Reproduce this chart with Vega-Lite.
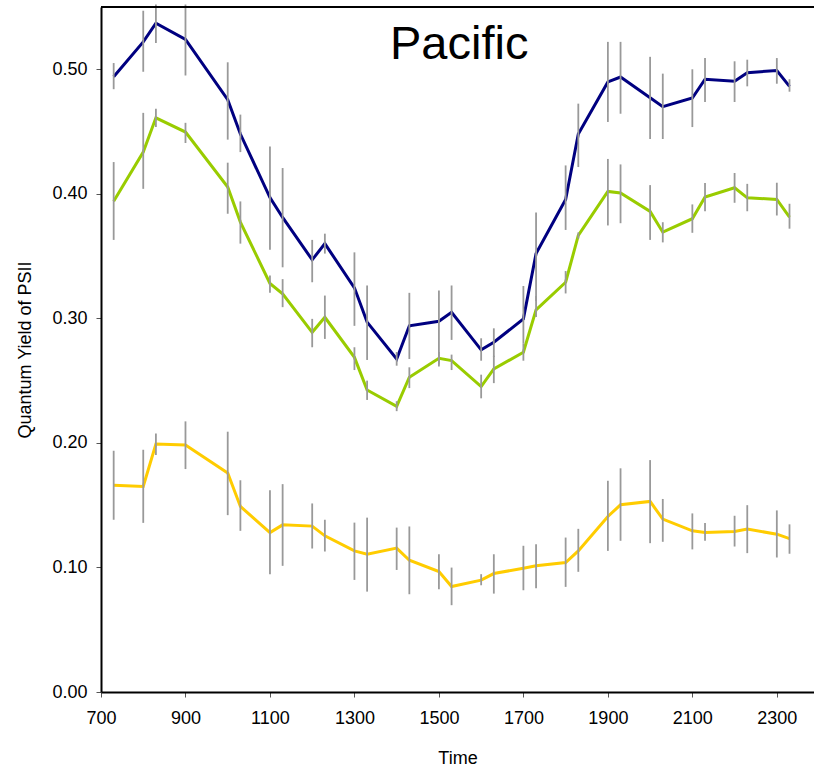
{
  "$schema": "https://vega.github.io/schema/vega-lite/v6.json",
  "width": 713,
  "height": 685,
  "autosize": {"type": "none"},
  "padding": {"left": 101, "top": 7, "right": 0, "bottom": 78},
  "background": "white",
  "config": {
    "view": {"stroke": null},
    "font": "Liberation Sans",
    "axis": {"grid": false, "domainColor": "black", "domainWidth": 2, "tickColor": "#555555", "tickSize": 5, "labelColor": "black", "titleColor": "black", "labelFont": "Liberation Sans", "titleFont": "Liberation Sans", "titleFontWeight": "normal", "labelFlush": false}
  },
  "data": {
    "values": [
      {"series": "A", "time": 730, "y": 0.494, "lo": 0.505, "hi": 0.484},
      {"series": "A", "time": 800, "y": 0.522, "lo": 0.547, "hi": 0.498},
      {"series": "A", "time": 830, "y": 0.537, "lo": 0.552, "hi": 0.521},
      {"series": "A", "time": 900, "y": 0.524, "lo": 0.552, "hi": 0.495},
      {"series": "A", "time": 1000, "y": 0.4756, "lo": 0.5056, "hi": 0.4435},
      {"series": "A", "time": 1030, "y": 0.448, "lo": 0.4636, "hi": 0.4335},
      {"series": "A", "time": 1100, "y": 0.397, "lo": 0.438, "hi": 0.355},
      {"series": "A", "time": 1130, "y": 0.381, "lo": 0.4207, "hi": 0.341},
      {"series": "A", "time": 1200, "y": 0.347, "lo": 0.363, "hi": 0.329},
      {"series": "A", "time": 1230, "y": 0.36, "lo": 0.368, "hi": 0.352},
      {"series": "A", "time": 1300, "y": 0.3245, "lo": 0.353, "hi": 0.294},
      {"series": "A", "time": 1330, "y": 0.297, "lo": 0.3264, "hi": 0.2666},
      {"series": "A", "time": 1400, "y": 0.2674, "lo": 0.273, "hi": 0.262},
      {"series": "A", "time": 1430, "y": 0.294, "lo": 0.3205, "hi": 0.2674},
      {"series": "A", "time": 1500, "y": 0.2977, "lo": 0.3224, "hi": 0.2613},
      {"series": "A", "time": 1530, "y": 0.3049, "lo": 0.3264, "hi": 0.2827},
      {"series": "A", "time": 1600, "y": 0.2747, "lo": 0.284, "hi": 0.266},
      {"series": "A", "time": 1630, "y": 0.2808, "lo": 0.292, "hi": 0.269},
      {"series": "A", "time": 1700, "y": 0.2996, "lo": 0.326, "hi": 0.28},
      {"series": "A", "time": 1730, "y": 0.352, "lo": 0.385, "hi": 0.314},
      {"series": "A", "time": 1800, "y": 0.3955, "lo": 0.4228, "hi": 0.371},
      {"series": "A", "time": 1830, "y": 0.448, "lo": 0.4724, "hi": 0.4215},
      {"series": "A", "time": 1900, "y": 0.4898, "lo": 0.522, "hi": 0.4577},
      {"series": "A", "time": 1930, "y": 0.4938, "lo": 0.522, "hi": 0.4643},
      {"series": "A", "time": 2000, "y": 0.4772, "lo": 0.51, "hi": 0.444},
      {"series": "A", "time": 2030, "y": 0.47, "lo": 0.4965, "hi": 0.444},
      {"series": "A", "time": 2100, "y": 0.4769, "lo": 0.5, "hi": 0.4536},
      {"series": "A", "time": 2130, "y": 0.492, "lo": 0.509, "hi": 0.4737},
      {"series": "A", "time": 2200, "y": 0.4904, "lo": 0.5064, "hi": 0.4737},
      {"series": "A", "time": 2230, "y": 0.4973, "lo": 0.5077, "hi": 0.4863},
      {"series": "A", "time": 2300, "y": 0.499, "lo": 0.509, "hi": 0.4884},
      {"series": "A", "time": 2330, "y": 0.4863, "lo": 0.492, "hi": 0.482},

      {"series": "B", "time": 730, "y": 0.394, "lo": 0.4255, "hi": 0.363},
      {"series": "B", "time": 800, "y": 0.4335, "lo": 0.465, "hi": 0.404},
      {"series": "B", "time": 830, "y": 0.461, "lo": 0.4683, "hi": 0.4536},
      {"series": "B", "time": 900, "y": 0.4496, "lo": 0.457, "hi": 0.4408},
      {"series": "B", "time": 1000, "y": 0.4054, "lo": 0.425, "hi": 0.384},
      {"series": "B", "time": 1030, "y": 0.3773, "lo": 0.3939, "hi": 0.36},
      {"series": "B", "time": 1100, "y": 0.328, "lo": 0.3344, "hi": 0.3205},
      {"series": "B", "time": 1130, "y": 0.3197, "lo": 0.3315, "hi": 0.309},
      {"series": "B", "time": 1200, "y": 0.2888, "lo": 0.2996, "hi": 0.2768},
      {"series": "B", "time": 1230, "y": 0.3009, "lo": 0.3183, "hi": 0.2835},
      {"series": "B", "time": 1300, "y": 0.2687, "lo": 0.2768, "hi": 0.2585},
      {"series": "B", "time": 1330, "y": 0.2425, "lo": 0.25, "hi": 0.2345},
      {"series": "B", "time": 1400, "y": 0.2294, "lo": 0.2335, "hi": 0.2255},
      {"series": "B", "time": 1430, "y": 0.2527, "lo": 0.2607, "hi": 0.244},
      {"series": "B", "time": 1500, "y": 0.268, "lo": 0.273, "hi": 0.263},
      {"series": "B", "time": 1530, "y": 0.2661, "lo": 0.2709, "hi": 0.2585},
      {"series": "B", "time": 1600, "y": 0.2452, "lo": 0.2548, "hi": 0.2358},
      {"series": "B", "time": 1630, "y": 0.2594, "lo": 0.27, "hi": 0.248},
      {"series": "B", "time": 1700, "y": 0.2728, "lo": 0.28, "hi": 0.266},
      {"series": "B", "time": 1730, "y": 0.3068, "lo": 0.318, "hi": 0.301},
      {"series": "B", "time": 1800, "y": 0.329, "lo": 0.338, "hi": 0.32},
      {"series": "B", "time": 1830, "y": 0.3666, "lo": 0.369, "hi": 0.364},
      {"series": "B", "time": 1900, "y": 0.4019, "lo": 0.428, "hi": 0.3746},
      {"series": "B", "time": 1930, "y": 0.4006, "lo": 0.4236, "hi": 0.3764},
      {"series": "B", "time": 2000, "y": 0.3859, "lo": 0.407, "hi": 0.363},
      {"series": "B", "time": 2030, "y": 0.3692, "lo": 0.3772, "hi": 0.361},
      {"series": "B", "time": 2100, "y": 0.38, "lo": 0.3915, "hi": 0.3687},
      {"series": "B", "time": 2130, "y": 0.3974, "lo": 0.4086, "hi": 0.386},
      {"series": "B", "time": 2200, "y": 0.4049, "lo": 0.4167, "hi": 0.3928},
      {"series": "B", "time": 2230, "y": 0.3968, "lo": 0.408, "hi": 0.386},
      {"series": "B", "time": 2300, "y": 0.3955, "lo": 0.4089, "hi": 0.3826},
      {"series": "B", "time": 2330, "y": 0.3813, "lo": 0.392, "hi": 0.372},

      {"series": "C", "time": 730, "y": 0.1661, "lo": 0.1937, "hi": 0.1383},
      {"series": "C", "time": 800, "y": 0.165, "lo": 0.1945, "hi": 0.1358},
      {"series": "C", "time": 830, "y": 0.1991, "lo": 0.2076, "hi": 0.1903},
      {"series": "C", "time": 900, "y": 0.1983, "lo": 0.2173, "hi": 0.179},
      {"series": "C", "time": 1000, "y": 0.1758, "lo": 0.209, "hi": 0.142},
      {"series": "C", "time": 1030, "y": 0.149, "lo": 0.17, "hi": 0.1294},
      {"series": "C", "time": 1100, "y": 0.128, "lo": 0.162, "hi": 0.0946},
      {"series": "C", "time": 1130, "y": 0.1342, "lo": 0.1669, "hi": 0.1013},
      {"series": "C", "time": 1200, "y": 0.1332, "lo": 0.1514, "hi": 0.1152},
      {"series": "C", "time": 1230, "y": 0.1254, "lo": 0.1383, "hi": 0.1128},
      {"series": "C", "time": 1300, "y": 0.1133, "lo": 0.136, "hi": 0.09},
      {"series": "C", "time": 1330, "y": 0.1106, "lo": 0.14, "hi": 0.0806},
      {"series": "C", "time": 1400, "y": 0.1155, "lo": 0.132, "hi": 0.098},
      {"series": "C", "time": 1430, "y": 0.1058, "lo": 0.1329, "hi": 0.0785},
      {"series": "C", "time": 1500, "y": 0.0967, "lo": 0.1106, "hi": 0.0825},
      {"series": "C", "time": 1530, "y": 0.0847, "lo": 0.0999, "hi": 0.0697},
      {"series": "C", "time": 1600, "y": 0.0898, "lo": 0.0946, "hi": 0.0857},
      {"series": "C", "time": 1630, "y": 0.0951, "lo": 0.1106, "hi": 0.079},
      {"series": "C", "time": 1700, "y": 0.0994, "lo": 0.1174, "hi": 0.0817},
      {"series": "C", "time": 1730, "y": 0.1013, "lo": 0.1187, "hi": 0.0833},
      {"series": "C", "time": 1800, "y": 0.1039, "lo": 0.124, "hi": 0.0844},
      {"series": "C", "time": 1830, "y": 0.1133, "lo": 0.131, "hi": 0.0965},
      {"series": "C", "time": 1900, "y": 0.1409, "lo": 0.1696, "hi": 0.1133},
      {"series": "C", "time": 1930, "y": 0.1503, "lo": 0.1796, "hi": 0.1214},
      {"series": "C", "time": 2000, "y": 0.153, "lo": 0.1862, "hi": 0.1195},
      {"series": "C", "time": 2030, "y": 0.1388, "lo": 0.155, "hi": 0.1206},
      {"series": "C", "time": 2100, "y": 0.1294, "lo": 0.1434, "hi": 0.1145},
      {"series": "C", "time": 2130, "y": 0.128, "lo": 0.1356, "hi": 0.1214},
      {"series": "C", "time": 2200, "y": 0.1289, "lo": 0.1415, "hi": 0.1168},
      {"series": "C", "time": 2230, "y": 0.1308, "lo": 0.15, "hi": 0.1115},
      {"series": "C", "time": 2300, "y": 0.1267, "lo": 0.1458, "hi": 0.108},
      {"series": "C", "time": 2330, "y": 0.1232, "lo": 0.1346, "hi": 0.111}
    ]
  },
  "layer": [
    {
      "mark": {"type": "line", "strokeWidth": 3, "interpolate": "linear"},
      "encoding": {
        "x": {
          "field": "time", "type": "quantitative",
          "scale": {"domain": [700, 2388], "nice": false, "zero": false},
          "axis": {"values": [700, 900, 1100, 1300, 1500, 1700, 1900, 2100, 2300], "title": "Time", "labelFontSize": 18, "titleFontSize": 18, "labelPadding": 12, "titlePadding": 22, "format": "d"}
        },
        "y": {
          "field": "y", "type": "quantitative",
          "scale": {"domain": [0, 0.55], "nice": false},
          "axis": {"values": [0, 0.1, 0.2, 0.3, 0.4, 0.5], "format": ".2f", "title": "Quantum Yield of PSII", "labelFontSize": 18, "titleFontSize": 18, "labelPadding": 9, "titlePadding": 17}
        },
        "color": {
          "field": "series", "type": "nominal",
          "scale": {"domain": ["A", "B", "C"], "range": ["#000080", "#99CC00", "#FFCC00"]},
          "legend": null
        }
      }
    },
    {
      "mark": {"type": "rule", "color": "#999999", "strokeWidth": 1.8},
      "encoding": {
        "x": {"field": "time", "type": "quantitative"},
        "y": {"field": "lo", "type": "quantitative"},
        "y2": {"field": "hi"}
      }
    },
    {
      "mark": {"type": "rule", "color": "black", "strokeWidth": 2},
      "encoding": {
        "y": {"datum": 0.55, "type": "quantitative"}
      }
    },
    {
      "data": {"values": [{"label": "Pacific", "time": 1548, "y": 0.508}]},
      "mark": {"type": "text", "fontSize": 47, "align": "center", "baseline": "alphabetic", "font": "Liberation Sans", "color": "black"},
      "encoding": {
        "x": {"field": "time", "type": "quantitative"},
        "y": {"field": "y", "type": "quantitative"},
        "text": {"field": "label"}
      }
    }
  ]
}
